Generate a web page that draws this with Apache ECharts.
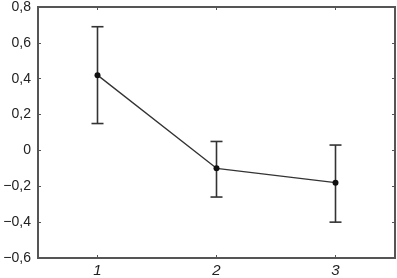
<!DOCTYPE html>
<html><head><meta charset="utf-8">
<script src="https://cdn.jsdelivr.net/npm/echarts@6/dist/echarts.min.js"></script>
<style>html,body{margin:0;padding:0;background:#fff}#c{width:397px;height:278px}</style>
</head><body><div id="c"></div>
<script>
const categories = ['1', '2', '3'];
const means = [0.42, -0.10, -0.18];
const upper = [0.69, 0.05, 0.03];
const lower = [0.15, -0.26, -0.40];

const chart = echarts.init(document.getElementById('c'), null, {renderer: 'canvas'});
const fmt = v => {
  const s = (Math.round(v * 10) / 10).toString().replace('.', ',');
  return s.replace('-', '\u2212');
};
const lineColor = '#333';
const frameColor = '#555';
chart.setOption({
  animation: false,
  grid: {left: 38, right: 2, top: 4, bottom: 19, show: true, borderColor: frameColor, borderWidth: 2},
  xAxis: [{
    type: 'category', data: categories, boundaryGap: true,
    axisLine: {show: false, onZero: false},
    axisTick: {show: true, inside: true, alignWithLabel: true, length: 3, lineStyle: {color: frameColor}},
    axisLabel: {fontStyle: 'italic', fontFamily: 'Liberation Sans', fontSize: 15, color: '#222', margin: 5}
  }, {
    type: 'category', data: categories, position: 'top', boundaryGap: true,
    axisLine: {show: false, onZero: false},
    axisTick: {show: true, inside: true, alignWithLabel: true, length: 3, lineStyle: {color: frameColor}},
    axisLabel: {show: false}
  }],
  yAxis: [{
    type: 'value', min: -0.6, max: 0.8, interval: 0.2,
    splitLine: {show: false},
    axisLine: {show: false, onZero: false},
    axisTick: {show: true, inside: true, length: 3, lineStyle: {color: frameColor}},
    axisLabel: {formatter: fmt, fontFamily: 'Liberation Sans', fontSize: 14, color: '#222', margin: 7}
  }, {
    type: 'value', min: -0.6, max: 0.8, interval: 0.2, position: 'right',
    splitLine: {show: false},
    axisLine: {show: false, onZero: false},
    axisTick: {show: true, inside: true, length: 3, lineStyle: {color: frameColor}},
    axisLabel: {show: false}
  }],
  series: [{
    type: 'line', data: means, symbol: 'circle', symbolSize: 6,
    lineStyle: {color: lineColor, width: 1.3}, itemStyle: {color: '#111'}, z: 3
  }, {
    type: 'custom', z: 2,
    data: categories.map((c, i) => [i, lower[i], upper[i]]),
    renderItem: (params, api) => {
      const x = api.value(0);
      const lo = api.coord([x, api.value(1)]);
      const hi = api.coord([x, api.value(2)]);
      const hw = 6;
      const st = {stroke: lineColor, lineWidth: 1.6};
      return {type: 'group', children: [
        {type: 'line', shape: {x1: lo[0], y1: lo[1], x2: hi[0], y2: hi[1]}, style: st},
        {type: 'line', shape: {x1: lo[0] - hw, y1: lo[1], x2: lo[0] + hw, y2: lo[1]}, style: st},
        {type: 'line', shape: {x1: hi[0] - hw, y1: hi[1], x2: hi[0] + hw, y2: hi[1]}, style: st}
      ]};
    }
  }]
});
</script></body></html>
